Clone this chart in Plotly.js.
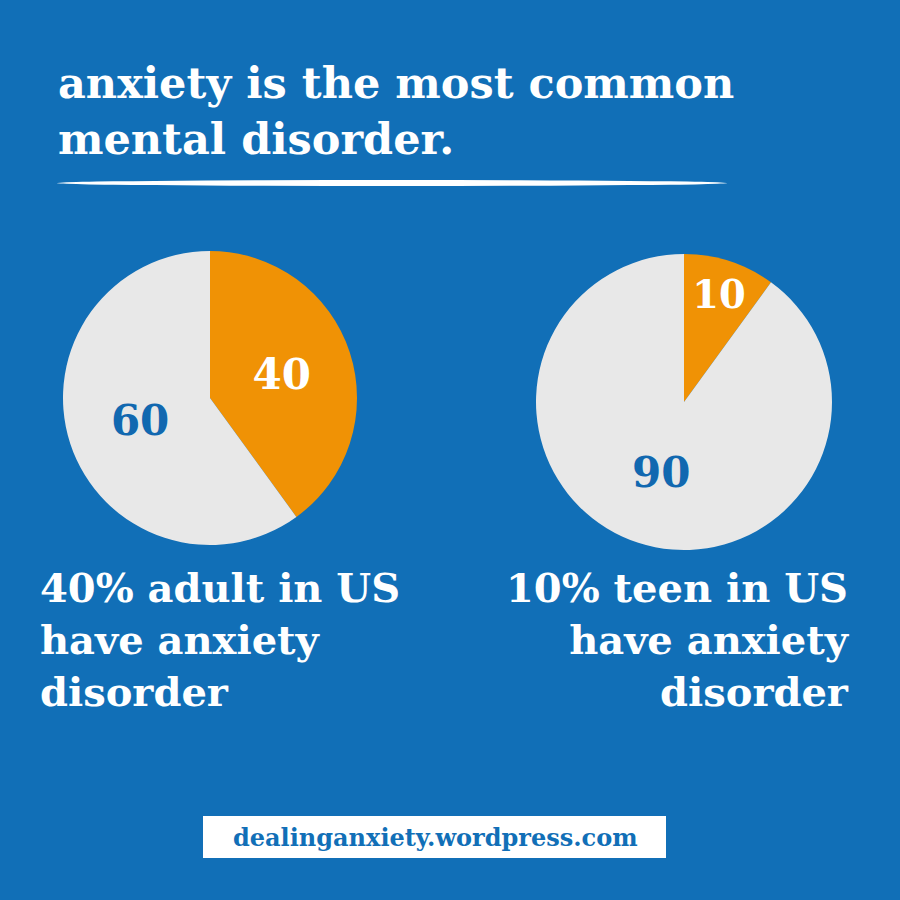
<!DOCTYPE html>
<html>
<head>
<meta charset="utf-8">
<script src="https://cdn.plot.ly/plotly-3.0.1.min.js"></script>
<style>html,body{margin:0;padding:0;background:#116fb7;}#chart{width:900px;height:900px;}</style>
</head>
<body>
<div id="chart"></div>
<script>
const sliceLabels = ["with anxiety disorder", "without"];
const adultValues = [40, 60];
const teenValues = [10, 90];
const titleText = "anxiety is the most common<br>mental disorder.";
const adultCaption = "40% adult in US<br>have anxiety<br>disorder";
const teenCaption = "10% teen in US<br>have anxiety<br>disorder";
const footerText = "dealinganxiety.wordpress.com";

const BLUE = "#116fb7";
const ORANGE = "#f09205";
const GRAY = "#e8e8e8";
const LABELBLUE = "#1168b0";
const FONT = "DejaVu Serif";

function pieTrace(values, dom) {
  return {
    type: "pie",
    labels: sliceLabels,
    values: values,
    sort: false,
    direction: "clockwise",
    rotation: 0,
    domain: dom,
    marker: {colors: [ORANGE, GRAY], line: {width: 0}},
    textinfo: "value",
    textposition: "inside",
    insidetextorientation: "horizontal",
    textfont: {family: FONT, size: 42, color: ["#ffffff", LABELBLUE], weight: "bold"},
    hoverinfo: "label+value",
    showlegend: false
  };
}

const data = [
  pieTrace(adultValues, {x: [63/900, 357/900], y: [1 - 545/900, 1 - 251/900]}),
  pieTrace(teenValues, {x: [536/900, 832/900], y: [1 - 551/900, 1 - 253/900]})
];

const layout = {
  width: 900, height: 900,
  paper_bgcolor: BLUE, plot_bgcolor: BLUE,
  margin: {l: 0, r: 0, t: 0, b: 0},
  showlegend: false,
  annotations: [
    {text: titleText, xref: "paper", yref: "paper", x: 56/900, y: 1 - 111/900,
     xanchor: "left", yanchor: "middle", align: "left", showarrow: false,
     font: {family: FONT, size: 43, color: "#ffffff", weight: "bold"}},
    {text: adultCaption, xref: "paper", yref: "paper", x: 38/900, y: 1 - 562/900,
     xanchor: "left", yanchor: "top", align: "left", showarrow: false,
     font: {family: FONT, size: 40, color: "#ffffff", weight: "bold"}},
    {text: teenCaption, xref: "paper", yref: "paper", x: 852/900, y: 1 - 562/900,
     xanchor: "right", yanchor: "top", align: "right", showarrow: false,
     font: {family: FONT, size: 40, color: "#ffffff", weight: "bold"}},
    {text: footerText, xref: "paper", yref: "paper", x: 435/900, y: 1 - 837/900,
     xanchor: "center", yanchor: "middle", showarrow: false,
     font: {family: FONT, size: 24, color: BLUE, weight: "bold"}}
  ],
  shapes: [
    {type: "circle", xref: "paper", yref: "paper",
     x0: 57/900, x1: 727/900, y0: 1 - 186/900, y1: 1 - 180/900,
     fillcolor: "#ffffff", line: {width: 0}},
    {type: "rect", xref: "paper", yref: "paper",
     x0: 203/900, x1: 666/900, y0: 1 - 858/900, y1: 1 - 816/900,
     fillcolor: "#ffffff", line: {width: 0}}
  ]
};

Plotly.newPlot("chart", data, layout, {displayModeBar: false, staticPlot: true});
</script>
</body>
</html>
